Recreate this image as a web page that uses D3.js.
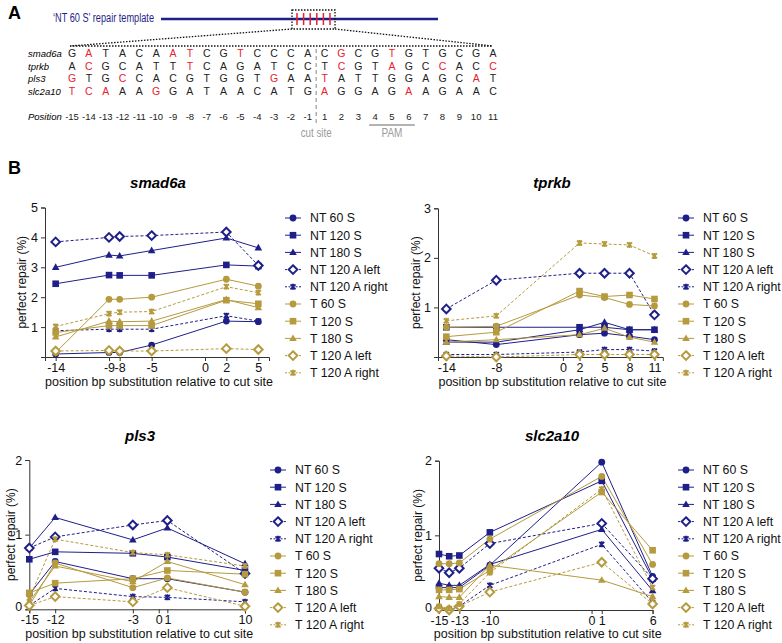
<!DOCTYPE html>
<html>
<head>
<meta charset="utf-8">
<script src="https://cdn.jsdelivr.net/npm/d3@7"></script>
<style>
  body { margin: 0; background: #fff; }
  svg { font-family: "Liberation Sans", Arial, sans-serif; }
</style>
</head>
<body>
<div id="chart"></div>
<script>
// ---- data: panel A ----
let positions = [-15, -14, -13, -12, -11, -10, -9, -8, -7, -6, -5, -4, -3, -2, -1, 1, 2, 3, 4, 5, 6, 7, 8, 9, 10, 11];
let genes = ["smad6a", "tprkb", "pls3", "slc2a10"];
let seqSmad6a = ["G","A","T","A","C","A","A","T","C","G","T","C","C","C","A","C","G","C","G","T","G","T","G","C","G","A"];
let seqTprkb = ["A","C","G","C","A","T","T","T","C","A","G","A","T","C","C","T","C","G","T","A","G","C","C","A","C","C"];
let seqPls3 = ["G","T","G","C","C","A","C","G","T","G","G","T","G","A","A","T","A","T","T","G","G","A","G","C","A","T"];
let seqSlc2a10 = ["T","C","A","A","A","G","G","A","T","A","A","C","A","T","G","A","G","G","A","G","A","A","G","A","A","C"];

// substituted positions (red letters, also the x values in panel B)
let subSmad6a = [-14, -9, -8, -5, 2, 5];
let subTprkb = [-14, -8, 2, 5, 8, 11];
let subPls3 = [-15, -12, -3, 1, 10];
let subSlc2a10 = [-15, -14, -13, -10, 1, 6];

// ---- data: panel B ----
let seriesNames = ["NT 60 S", "NT 120 S", "NT 180 S", "NT 120 A left", "NT 120 A right",
                   "T 60 S", "T 120 S", "T 180 S", "T 120 A left", "T 120 A right"];

let smad6aValues = [
  [0.10, 0.15, 0.15, 0.40, 1.20, 1.18],
  [2.45, 2.74, 2.73, 2.73, 3.08, 3.04],
  [3.00, 3.41, 3.38, 3.56, 3.98, 3.65],
  [3.85, 4.00, 4.03, 4.06, 4.18, 3.06],
  [0.88, 0.93, 0.93, 0.93, 1.38, 1.20],
  [0.15, 1.93, 1.93, 2.00, 2.60, 2.37],
  [0.82, 1.05, 1.05, 1.05, 1.90, 1.78],
  [0.67, 1.20, 1.18, 1.20, 1.92, 1.65],
  [0.20, 0.22, 0.20, 0.20, 0.28, 0.25],
  [1.02, 1.45, 1.50, 1.52, 2.35, 2.15]
];
let tprkbValues = [
  [0.35, 0.25, 0.45, 0.48, 0.42, 0.35],
  [0.60, 0.60, 0.60, 0.60, 0.55, 0.55],
  [0.30, 0.30, 0.55, 0.70, 0.55, 0.55],
  [0.97, 1.55, 1.69, 1.69, 1.69, 0.85],
  [0.05, 0.05, 0.10, 0.15, 0.15, 0.12],
  [0.60, 0.62, 1.25, 1.20, 1.06, 1.03],
  [0.41, 0.50, 1.33, 1.22, 1.25, 1.17],
  [0.30, 0.35, 0.45, 0.58, 0.40, 0.30],
  [0.02, 0.00, 0.05, 0.05, 0.05, 0.05],
  [0.73, 0.83, 2.30, 2.28, 2.26, 2.04]
];
let pls3Values = [
  [0.20, 0.64, 0.41, 0.41, 0.23],
  [0.67, 0.77, 0.75, 0.70, 0.52],
  [0.82, 1.23, 0.93, 1.09, 0.61],
  [0.82, 0.97, 1.13, 1.19, 0.48],
  [0.05, 0.28, 0.17, 0.16, 0.10],
  [0.05, 0.62, 0.29, 0.42, 0.23],
  [0.22, 0.35, 0.41, 0.52, 0.47],
  [0.10, 0.58, 0.37, 0.64, 0.33],
  [0.05, 0.17, 0.10, 0.29, 0.04],
  [0.15, 0.94, 0.76, 0.73, 0.58]
];
let slc2a10Values = [
  [0.30, 0.30, 0.30, 0.60, 1.98, 0.45],
  [0.75, 0.72, 0.73, 1.04, 1.73, 0.42],
  [0.36, 0.33, 0.33, 0.61, 1.08, 0.26],
  [0.56, 0.50, 0.56, 0.89, 1.16, 0.42],
  [0.03, 0.00, 0.05, 0.33, 0.88, 0.10],
  [0.62, 0.62, 0.63, 0.95, 1.79, 0.61],
  [0.27, 0.27, 0.28, 0.53, 1.58, 0.80],
  [0.18, 0.17, 0.17, 0.60, 0.40, 0.18],
  [0.02, 0.00, 0.05, 0.24, 0.64, 0.08],
  [0.05, 0.02, 0.08, 0.50, 1.62, 0.30]
];

let blue = "#1f1f8a", gold = "#b59a3e", red = "#e8212b", grey = "#9a9a9a";

let svg = d3.select("#chart").append("svg")
  .attr("width", 782)
  .attr("height", 643);

// ================= panel A =================
// the original panel A text is set a bit condensed, so some widths are pinned with textLength
svg.append("text").attr("x", 8).attr("y", 19)
  .attr("font-size", 18).attr("font-weight", "bold").text("A");

svg.append("text").attr("x", 53).attr("y", 22)
  .attr("font-size", 12.5).attr("fill", blue)
  .attr("textLength", 101).attr("lengthAdjust", "spacingAndGlyphs")
  .text("\u2018NT 60 S\u2019 repair template");

svg.append("line").attr("x1", 161).attr("x2", 438).attr("y1", 19).attr("y2", 19)
  .attr("stroke", blue).attr("stroke-width", 2.5);

let tickX = d3.scaleLinear().domain([0, 5]).range([297, 330]);
svg.selectAll(".redtick").data(d3.range(6)).enter().append("line")
  .attr("x1", d => tickX(d)).attr("x2", d => tickX(d))
  .attr("y1", 13).attr("y2", 25)
  .attr("stroke", red).attr("stroke-width", 1.5);

svg.append("rect").attr("x", 292).attr("y", 10).attr("width", 43).attr("height", 19)
  .attr("fill", "none").attr("stroke", "#111").attr("stroke-width", 1.3).attr("stroke-dasharray", "1.5,1.5");

let seqX = d3.scalePoint().domain(positions).range([72, 493]);

let dots = [[292, 29, 70, 46], [335, 29, 493, 46], [70, 46, 493, 46]];
svg.selectAll(".dotl").data(dots).enter().append("line")
  .attr("x1", d => d[0]).attr("y1", d => d[1]).attr("x2", d => d[2]).attr("y2", d => d[3])
  .attr("stroke", "#111").attr("stroke-width", 1.3).attr("stroke-dasharray", "1.5,1.5");

let seqs = [seqSmad6a, seqTprkb, seqPls3, seqSlc2a10];
let subs = [subSmad6a, subTprkb, subPls3, subSlc2a10];
let rowY = [57, 69.5, 82, 94.5];

genes.forEach(function(g, i) {
  svg.append("text").attr("x", 28).attr("y", rowY[i])
    .attr("font-size", 9.5).attr("font-style", "italic")
    .text(g);
  svg.selectAll(".seq" + i).data(seqs[i]).enter().append("text")
    .attr("x", (d, j) => seqX(positions[j]))
    .attr("y", rowY[i])
    .attr("text-anchor", "middle")
    .attr("font-size", 10.5)
    .attr("fill", (d, j) => subs[i].indexOf(positions[j]) >= 0 ? red : "#222")
    .text(d => d);
});

svg.append("text").attr("x", 28).attr("y", 119.5)
  .attr("font-size", 9.5).attr("font-style", "italic")
  .text("Position");
svg.selectAll(".pos").data(positions).enter().append("text")
  .attr("x", d => seqX(d)).attr("y", 119.5)
  .attr("text-anchor", "middle").attr("font-size", 9.5).attr("fill", "#222")
  .text(d => String(d));

let cutX = (seqX(-1) + seqX(1)) / 2;
svg.append("line").attr("x1", cutX).attr("x2", cutX).attr("y1", 49).attr("y2", 124)
  .attr("stroke", grey).attr("stroke-width", 1.2).attr("stroke-dasharray", "4,3");
svg.append("text").attr("x", cutX - 15.5).attr("y", 137)
  .attr("font-size", 12.5).attr("fill", grey)
  .attr("textLength", 31).attr("lengthAdjust", "spacingAndGlyphs")
  .text("cut site");

svg.append("line").attr("x1", seqX(4) - 6).attr("x2", seqX(6) + 6).attr("y1", 125).attr("y2", 125)
  .attr("stroke", grey).attr("stroke-width", 1.5);
svg.append("text").attr("x", seqX(5) - 10.5).attr("y", 137)
  .attr("font-size", 12.5).attr("fill", grey)
  .attr("textLength", 21).attr("lengthAdjust", "spacingAndGlyphs")
  .text("PAM");

// ================= panel B =================
svg.append("text").attr("x", 8).attr("y", 174)
  .attr("font-size", 18).attr("font-weight", "bold").text("B");

let seriesColor = seriesNames.map(n => n.indexOf("NT") === 0 ? blue : gold);
let seriesShape = ["circle", "square", "triangle", "diamond", "cross",
                   "circle", "square", "triangle", "diamond", "cross"];
let seriesDashed = seriesNames.map(n => n.indexOf(" A ") > 0);

function drawMarker(g, shape, color, cx, cy) {
  if (shape === "circle") {
    g.append("circle").attr("cx", cx).attr("cy", cy).attr("r", 3.4).attr("fill", color);
  } else if (shape === "square") {
    g.append("rect").attr("x", cx - 3.3).attr("y", cy - 3.3).attr("width", 6.6).attr("height", 6.6).attr("fill", color);
  } else if (shape === "triangle") {
    g.append("path").attr("d", "M" + cx + "," + (cy - 4) + "L" + (cx + 3.8) + "," + (cy + 2.6) + "L" + (cx - 3.8) + "," + (cy + 2.6) + "Z")
      .attr("fill", color);
  } else if (shape === "diamond") {
    g.append("path").attr("d", "M" + cx + "," + (cy - 4.3) + "L" + (cx + 4.3) + "," + cy + "L" + cx + "," + (cy + 4.3) + "L" + (cx - 4.3) + "," + cy + "Z")
      .attr("fill", "#fff").attr("stroke", color).attr("stroke-width", 2);
  } else {
    g.append("path").attr("d", "M" + (cx - 2.5) + "," + (cy - 2.5) + "L" + (cx + 2.5) + "," + (cy + 2.5) +
        "M" + (cx - 2.5) + "," + (cy + 2.5) + "L" + (cx + 2.5) + "," + (cy - 2.5) +
        "M" + cx + "," + (cy - 3) + "L" + cx + "," + (cy + 3))
      .attr("stroke", color).attr("stroke-width", 1.8).attr("fill", "none");
  }
}

let panels = [
  { title: "smad6a", xs: subSmad6a, vals: smad6aValues, xDom: [-15, 6], xRange: [45, 269],
    yDom: [0, 5], yRange: [357, 207.5], yTicks: [1, 2, 3, 4, 5], xTicks: [-14, -9, -8, -5, 0, 2, 5],
    titleX: 158, titleY: 188, yLabX: 22, xLabY: 386, legX: 285, legY: 218 },
  { title: "tprkb", xs: subTprkb, vals: tprkbValues, xDom: [-15, 12], xRange: [438, 662.8],
    yDom: [0, 3], yRange: [357, 208.3], yTicks: [1, 2, 3], xTicks: [-14, -8, 0, 2, 5, 8, 11],
    titleX: 552, titleY: 188, yLabX: 416, xLabY: 386, legX: 678, legY: 218 },
  { title: "pls3", xs: subPls3, vals: pls3Values, xDom: [-15, 10], xRange: [29.3, 245],
    yDom: [0, 2], yRange: [609.3, 460], yTicks: [0, 1, 2], xTicks: [-15, -12, -3, 0, 1, 10],
    titleX: 140, titleY: 441, yLabX: 11, xLabY: 638, legX: 270, legY: 470 },
  { title: "slc2a10", xs: subSlc2a10, vals: slc2a10Values, xDom: [-15, 6], xRange: [439, 652.6],
    yDom: [0, 2], yRange: [610, 460.7], yTicks: [0, 1, 2], xTicks: [-15, -13, -10, 0, 1, 6],
    titleX: 552, titleY: 441, yLabX: 418, xLabY: 638, legX: 678, legY: 470 }
];

panels.forEach(function(p) {
  let g = svg.append("g");
  let x = d3.scaleLinear().domain(p.xDom).range(p.xRange);
  let y = d3.scaleLinear().domain(p.yDom).range(p.yRange);

  g.append("text").attr("x", p.titleX).attr("y", p.titleY).attr("text-anchor", "middle")
    .attr("font-size", 15).attr("font-weight", "bold").attr("font-style", "italic").text(p.title);

  let xAxis = d3.axisBottom(x).tickValues(p.xTicks).tickFormat(d => String(d)).tickSize(4).tickPadding(2);
  let yAxis = d3.axisLeft(y).tickValues(p.yTicks).tickFormat(d => String(d)).tickSize(4).tickPadding(3);

  let xa = g.append("g").attr("transform", "translate(0," + p.yRange[0] + ")").call(xAxis);
  let ya = g.append("g").attr("transform", "translate(" + p.xRange[0] + ",0)").call(yAxis);
  [xa, ya].forEach(function(a) {
    a.select(".domain").attr("stroke", "#333");
    a.selectAll(".tick line").attr("stroke", "#333");
    a.selectAll("text").attr("font-size", 12.5).attr("fill", "#111")
      .attr("font-family", "Liberation Sans, Arial, sans-serif");
  });
  // the lowest y label sits just above the axis corner, as in the original
  ya.selectAll(".tick").filter(d => d === 0).select("text").attr("dy", "0.1em");

  g.append("text")
    .attr("transform", "translate(" + p.yLabX + "," + ((p.yRange[0] + p.yRange[1]) / 2) + ") rotate(-90)")
    .attr("text-anchor", "middle").attr("dy", "0.35em").attr("font-size", 12).attr("fill", "#111")
    .text("perfect repair (%)");
  g.append("text").attr("x", (p.xRange[0] + p.xRange[1]) / 2 + 2).attr("y", p.xLabY)
    .attr("text-anchor", "middle").attr("font-size", 12.5).attr("fill", "#111")
    .text("position bp substitution relative to cut site");

  let line = d3.line().x(d => x(d[0])).y(d => y(d[1]));

  p.vals.forEach(function(vs, si) {
    let pts = p.xs.map((xv, k) => [xv, vs[k]]);
    g.append("path").datum(pts).attr("d", line)
      .attr("fill", "none").attr("stroke", seriesColor[si]).attr("stroke-width", 1)
      .attr("stroke-dasharray", seriesDashed[si] ? "3,2" : null);
  });
  p.vals.forEach(function(vs, si) {
    p.xs.forEach(function(xv, k) {
      drawMarker(g, seriesShape[si], seriesColor[si], x(xv), y(vs[k]));
    });
  });

  // legend
  seriesNames.forEach(function(n, si) {
    let ly = p.legY + si * 17.2;
    g.append("line").attr("x1", p.legX).attr("x2", p.legX + 16).attr("y1", ly).attr("y2", ly)
      .attr("stroke", seriesColor[si]).attr("stroke-width", 1)
      .attr("stroke-dasharray", seriesDashed[si] ? "2,1.5" : null);
    drawMarker(g, seriesShape[si], seriesColor[si], p.legX + 8, ly);
    g.append("text").attr("x", p.legX + 25).attr("y", ly).attr("dy", "0.36em")
      .attr("font-size", 12.3).attr("fill", "#111").text(n);
  });
});
</script>
</body>
</html>
